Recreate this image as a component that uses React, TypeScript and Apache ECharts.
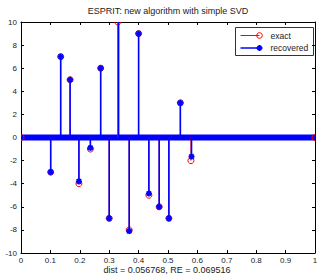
import React, { useEffect, useRef } from "react";
import * as echarts from "echarts";

const exactX = [0, 0.101, 0.135, 0.167, 0.197, 0.236, 0.271, 0.300, 0.329, 0.368, 0.400, 0.435, 0.470, 0.503, 0.542, 0.578, 1];
const exactY = [0, -3, 7, 5, -4, -1, 6, -7, 10, -8, 9, -5, -6, -7, 3, -2, 0];
const recoveredX = [0.101, 0.135, 0.167, 0.197, 0.236, 0.271, 0.300, 0.332, 0.368, 0.400, 0.435, 0.470, 0.503, 0.542, 0.580];
const recoveredY = [-3, 7, 5, -3.8, -0.9, 6, -7, 10.5, -8.1, 9, -4.85, -6, -7, 3, -1.65];
const baselineX = [0, 1];
const baselineY = [0, 0];
const titleText = "ESPRIT: new algorithm with simple SVD";
const xLabelText = "dist = 0.056768, RE = 0.069516";
const legendNames = ["exact", "recovered"];

const RED = "#ff0000";
const BLUE = "#0000ff";
const FONT = "Liberation Sans, Arial, sans-serif";

export default function App() {
  const ref = useRef<HTMLDivElement>(null);
  useEffect(() => {
    document.body.style.margin = "0";
    if (!ref.current) return;
    const chart = echarts.init(ref.current, null, { renderer: "svg" });
    const axisCommon = {
      type: "value" as const,
      axisLine: { show: true, onZero: false, lineStyle: { color: "#000", width: 1 } },
      axisTick: { show: true, inside: true, length: 3, lineStyle: { color: "#000" } },
      splitLine: { show: false },
    };
    const labelStyle = { color: "#222", fontSize: 8, fontFamily: FONT };
    const fmt = (v: number) => String(Math.round(v * 10) / 10);
    chart.setOption({
      animation: false,
      backgroundColor: "#fff",
      grid: { left: 21, right: 2, top: 22, bottom: 23, containLabel: false, outerBoundsMode: "none" },
      xAxis: [
        { ...axisCommon, min: 0, max: 1, interval: 0.1, position: "bottom",
          axisLabel: { ...labelStyle, margin: 3, formatter: fmt } },
        { ...axisCommon, min: 0, max: 1, interval: 0.1, position: "top", axisLabel: { show: false } },
      ],
      yAxis: [
        { ...axisCommon, min: -10, max: 10, interval: 2, position: "left",
          axisLabel: { ...labelStyle, margin: 4, formatter: fmt } },
        { ...axisCommon, min: -10, max: 10, interval: 2, position: "right", axisLabel: { show: false } },
      ],
      graphic: [
        { type: "text", x: 168, y: 11, style: { text: titleText, fill: "#222", font: `9px ${FONT}`, textAlign: "center", textVerticalAlign: "middle" } },
        { type: "text", x: 167, y: 269.5, style: { text: xLabelText, fill: "#222", font: `9px ${FONT}`, textAlign: "center", textVerticalAlign: "middle" } },
        { type: "group", left: 235, top: 27, children: [
          { type: "rect", shape: { x: 0, y: 0, width: 78, height: 28 }, style: { fill: "#fff", stroke: "#333", lineWidth: 1 } },
          { type: "line", shape: { x1: 5, y1: 8, x2: 24, y2: 8 }, style: { stroke: RED, lineWidth: 1 } },
          { type: "circle", shape: { cx: 24, cy: 8, r: 2.8 }, style: { fill: "none", stroke: RED, lineWidth: 1 } },
          { type: "text", x: 35, y: 8, style: { text: legendNames[0], fill: "#222", font: `8.5px ${FONT}`, textVerticalAlign: "middle" } },
          { type: "line", shape: { x1: 5, y1: 20.5, x2: 24, y2: 20.5 }, style: { stroke: BLUE, lineWidth: 1.5 } },
          { type: "line", shape: { x1: 21, y1: 20.5, x2: 27, y2: 20.5 }, style: { stroke: BLUE, lineWidth: 1.8 } },
          { type: "line", shape: { x1: 24, y1: 17.5, x2: 24, y2: 23.5 }, style: { stroke: BLUE, lineWidth: 1.8 } },
          { type: "line", shape: { x1: 22, y1: 18.5, x2: 26, y2: 22.5 }, style: { stroke: BLUE, lineWidth: 1.8 } },
          { type: "line", shape: { x1: 22, y1: 22.5, x2: 26, y2: 18.5 }, style: { stroke: BLUE, lineWidth: 1.8 } },
          { type: "text", x: 35, y: 20.5, style: { text: legendNames[1], fill: "#222", font: `8.5px ${FONT}`, textVerticalAlign: "middle" } },
        ] },
      ],
      series: [
        {
          type: "line", name: "baseline", silent: true, z: 1,
          data: baselineX.map((x, i) => [x, baselineY[i]]),
          symbol: "none", lineStyle: { color: BLUE, width: 6 },
        },
        {
          type: "custom", name: legendNames[0], z: 2, clip: true,
          data: exactX.map((x, i) => [x, exactY[i]]),
          renderItem: (_p: any, api: any) => {
            const x = api.value(0), y = api.value(1);
            const a = api.coord([x, 0]);
            const b = api.coord([x, y]);
            return { type: "group", children: [
              { type: "line", shape: { x1: a[0], y1: a[1], x2: b[0], y2: b[1] }, style: { stroke: RED, lineWidth: 1 } },
              { type: "circle", shape: { cx: b[0], cy: b[1], r: 3 }, style: { fill: "none", stroke: RED, lineWidth: 1 } },
            ] };
          },
        },
        {
          type: "custom", name: legendNames[1], z: 3, clip: true,
          data: recoveredX.map((x, i) => [x, recoveredY[i]]),
          renderItem: (_p: any, api: any) => {
            const x = api.value(0), y = api.value(1);
            const a = api.coord([x, 0]);
            const b = api.coord([x, y]);
            const s = 3, d = 2.2;
            const st = { stroke: BLUE, lineWidth: 1.8 };
            return { type: "group", children: [
              { type: "line", shape: { x1: a[0], y1: a[1], x2: b[0], y2: b[1] }, style: { stroke: BLUE, lineWidth: 1.6 } },
              { type: "line", shape: { x1: b[0] - s, y1: b[1], x2: b[0] + s, y2: b[1] }, style: st },
              { type: "line", shape: { x1: b[0], y1: b[1] - s, x2: b[0], y2: b[1] + s }, style: st },
              { type: "line", shape: { x1: b[0] - d, y1: b[1] - d, x2: b[0] + d, y2: b[1] + d }, style: st },
              { type: "line", shape: { x1: b[0] - d, y1: b[1] + d, x2: b[0] + d, y2: b[1] - d }, style: st },
            ] };
          },
        },
      ],
    });
    return () => chart.dispose();
  }, []);
  return <div ref={ref} style={{ width: 317, height: 276 }} />;
}
